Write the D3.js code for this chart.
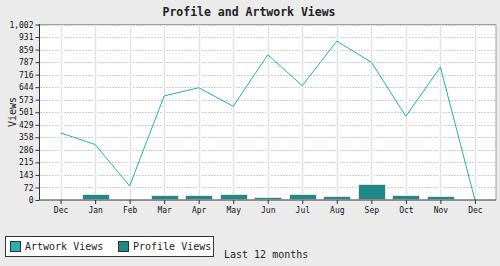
<!DOCTYPE html>
<html>
<head>
<meta charset="utf-8">
<script src="https://cdn.jsdelivr.net/npm/d3@7"></script>
<style>
  html, body { margin: 0; padding: 0; background: #ebebeb; }
  svg { display: block; font-family: "DejaVu Sans Mono", monospace; }
</style>
</head>
<body>
<svg id="chart" width="500" height="266"></svg>
<script>
const months = ["Dec", "Jan", "Feb", "Mar", "Apr", "May", "Jun", "Jul", "Aug", "Sep", "Oct", "Nov", "Dec"];
const artworkViews = [383, 317, 80, 594, 641, 535, 829, 653, 907, 787, 478, 759, 0];
const profileViews = [0, 28, 0, 24, 24, 30, 13, 27, 19, 84, 24, 19];
const yMax = 1002;
const yTickLabels = ["0", "72", "143", "215", "286", "358", "429", "501", "573", "644", "716", "787", "859", "931", "1,002"];

(function () {
const svg = d3.select("#chart");
const pL = 39.5, pR = 496, pT = 24.5, pB = 200;
const keys = months.map((m, i) => i);
const yTicks = yTickLabels.map((t, i) => i * yMax / (yTickLabels.length - 1));

const x = d3.scalePoint().domain(keys).range([pL, pR]).padding(0.61);
const y = d3.scaleLinear().domain([0, yMax]).range([pB, pT]);
const barW = 27;

// plot background
svg.append("rect")
  .attr("x", pL).attr("y", pT)
  .attr("width", pR - pL).attr("height", pB - pT)
  .attr("fill", "#fff");

// horizontal dotted grid
svg.append("g")
  .selectAll("line")
  .data(yTicks.slice(1))
  .join("line")
  .attr("x1", pL + 1).attr("x2", pR)
  .attr("y1", d => Math.round(y(d)) + 0.5)
  .attr("y2", d => Math.round(y(d)) + 0.5)
  .attr("stroke", "#999")
  .attr("stroke-dasharray", "1,2");

// vertical grid (white halo + light line)
const vg = svg.append("g");
vg.selectAll("line.halo")
  .data(keys)
  .join("line")
  .attr("class", "halo")
  .attr("x1", d => Math.round(x(d)) + 0.5)
  .attr("x2", d => Math.round(x(d)) + 0.5)
  .attr("y1", pT + 1).attr("y2", pB)
  .attr("stroke", "#fff")
  .attr("stroke-width", 4);
vg.selectAll("line.grid")
  .data(keys)
  .join("line")
  .attr("class", "grid")
  .attr("x1", d => Math.round(x(d)) + 0.5)
  .attr("x2", d => Math.round(x(d)) + 0.5)
  .attr("y1", pT).attr("y2", pB)
  .attr("stroke", "#e2e2e2")
  .attr("stroke-width", 1.5);

// border top/right
svg.append("path")
  .attr("d", `M${pL},${pT}H${pR}V${pB}`)
  .attr("fill", "none")
  .attr("stroke", "#a0a0a0");

// profile views bars
svg.append("g")
  .selectAll("rect")
  .data(profileViews)
  .join("rect")
  .attr("x", (d, i) => Math.round(x(i) - barW / 2) + 0.5)
  .attr("y", d => Math.round(y(d)) - 0.5)
  .attr("width", barW)
  .attr("height", d => pB - Math.round(y(d)))
  .attr("fill", "#1e8a87")
  .attr("stroke", "#e4e4e4");

// artwork views line
svg.append("path")
  .datum(artworkViews)
  .attr("fill", "none")
  .attr("stroke", "#22b2aa")
  .attr("stroke-width", 1)
  .attr("d", d3.line().x((d, i) => x(i)).y(d => y(d)));

// y axis
const yAxis = svg.append("g")
  .attr("transform", `translate(${pL},0)`)
  .call(d3.axisLeft(y).tickValues(yTicks).tickSize(4).tickPadding(2)
    .tickFormat((d, i) => yTickLabels[i]));
yAxis.select(".domain").attr("stroke", "#333").attr("d", `M0,${pT - 0.5}V${pB}`);
yAxis.selectAll(".tick line").attr("stroke", "#333");
yAxis.selectAll("text").attr("fill", "#111").attr("font-size", "8px")
  .attr("font-family", "DejaVu Sans Mono");

// x axis
const xAxis = svg.append("g")
  .attr("transform", `translate(0,${pB})`)
  .call(d3.axisBottom(x).tickSize(4).tickPadding(3).tickFormat(i => months[i]));
xAxis.select(".domain").attr("stroke", "#333").attr("d", `M${pL},0H${pR}`);
xAxis.selectAll(".tick line").attr("stroke", "#333");
xAxis.selectAll("text").attr("fill", "#111").attr("font-size", "8px")
  .attr("font-family", "DejaVu Sans Mono");

// title
svg.append("text")
  .attr("x", 249).attr("y", 16)
  .attr("text-anchor", "middle")
  .attr("font-size", "11.5px")
  .attr("font-weight", "bold")
  .attr("fill", "#222")
  .text("Profile and Artwork Views");

// y label
svg.append("text")
  .attr("transform", "translate(16,112) rotate(-90)")
  .attr("text-anchor", "middle")
  .attr("font-size", "10px")
  .attr("fill", "#222")
  .text("Views");

// legend
const legend = svg.append("g");
legend.append("rect")
  .attr("x", 5.5).attr("y", 236.5)
  .attr("width", 208).attr("height", 20)
  .attr("fill", "#fff").attr("stroke", "#333");
const legendItems = [
  { label: "Artwork Views", color: "#2ab0b0", x: 10 },
  { label: "Profile Views", color: "#1e8a87", x: 118 }
];
legendItems.forEach(it => {
  legend.append("rect")
    .attr("x", it.x + 0.5).attr("y", 241.5)
    .attr("width", 10).attr("height", 10)
    .attr("fill", it.color).attr("stroke", "#333");
  legend.append("text")
    .attr("x", it.x + 15).attr("y", 250)
    .attr("font-size", "10px").attr("fill", "#222")
    .text(it.label);
});

svg.append("text")
  .attr("x", 224).attr("y", 258)
  .attr("font-size", "10px").attr("fill", "#222")
  .text("Last 12 months");
})();
</script>
</body>
</html>
